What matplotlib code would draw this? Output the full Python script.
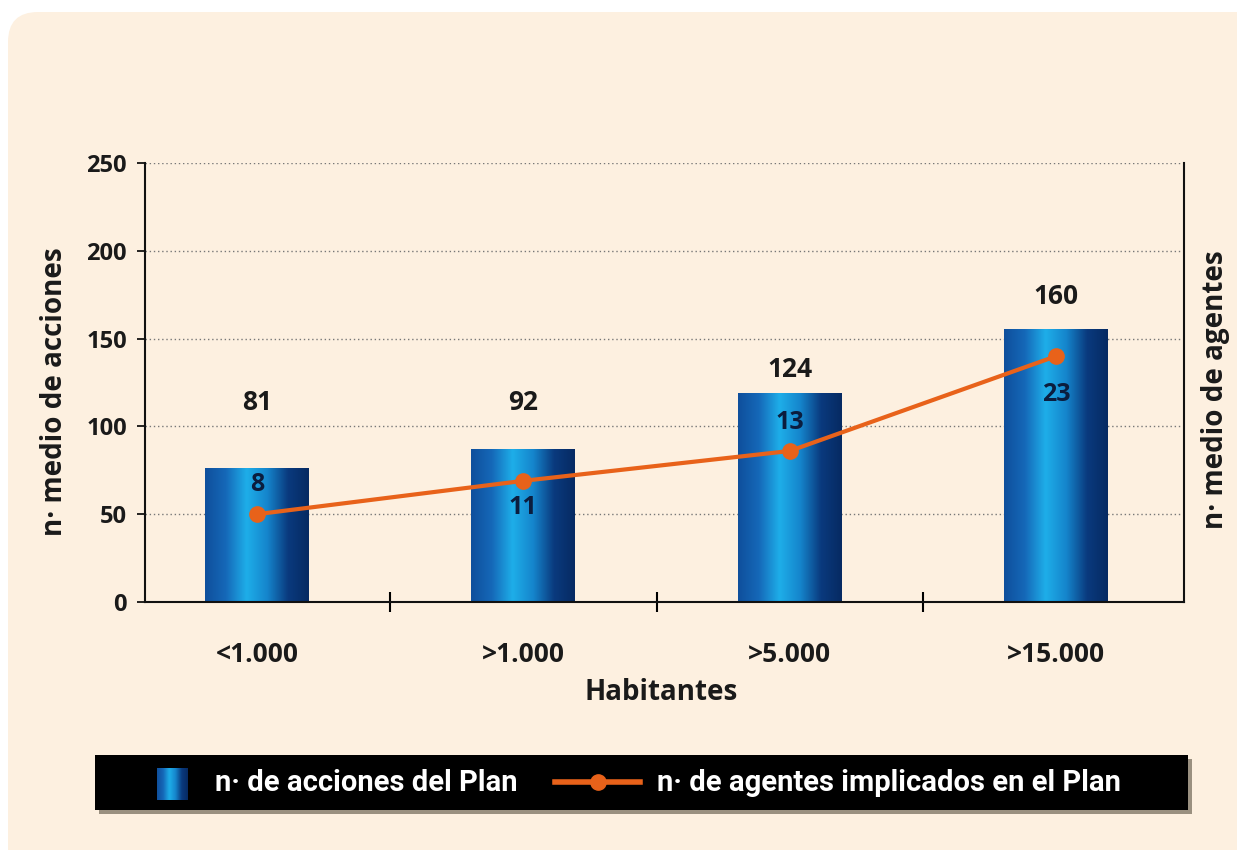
import numpy as np
import matplotlib
matplotlib.use('Agg')
import matplotlib.pyplot as plt
from matplotlib.colors import LinearSegmentedColormap
from matplotlib.patches import FancyBboxPatch, Rectangle
from matplotlib.lines import Line2D

# data
categories = ['<1.000', '>1.000', '>5.000', '>15.000']
acciones_height = [76, 87, 119, 155]      # bar heights as drawn
acciones_labels = ['81', '92', '124', '160']
agentes_y = [50, 69, 86, 140]             # line points on the left scale
agentes_labels = ['8', '11', '13', '23']

# label offsets (pixels) so the numbers sit where the original has them
bar_lab_off = [66, 47, 24, 33]
line_lab_off = [30, -27, 28, -38]

cream = '#fdf0e0'
orange = '#e8621a'
dark = '#1a1a1a'
navy = '#0b1d3e'
font = 'Open Sans'

bar_cmap = LinearSegmentedColormap.from_list(
    'barblue', ['#0f4f9c', '#1568b8', '#1eaee9', '#1585cc', '#0a3a7e', '#062a62'])

fig = plt.figure(figsize=(12.37, 8.5), dpi=100)
fig.patch.set_facecolor('white')

# cream rounded panel
bg = FancyBboxPatch((8, -40), 1290, 878, boxstyle='round,pad=0,rounding_size=30',
                    transform=None, facecolor=cream, edgecolor='none', zorder=-5)
fig.add_artist(bg)

ax = fig.add_axes([145 / 1237, 1 - 602 / 850, (1184 - 145) / 1237, (602 - 163) / 850])
ax.set_facecolor('none')

x = np.arange(len(categories))
bars = ax.bar(x, acciones_height, width=0.39, color='none', edgecolor='none')
grad = np.linspace(0, 1, 256).reshape(1, -1)
for b in bars:
    x0, w, h = b.get_x(), b.get_width(), b.get_height()
    ax.imshow(grad, cmap=bar_cmap, extent=[x0, x0 + w, 0, h], aspect='auto',
              interpolation='bicubic', zorder=2)

ax.plot(x, agentes_y, color=orange, lw=3, marker='o', ms=11,
        markerfacecolor=orange, markeredgecolor=orange, zorder=4)

for xi, h, lab, off in zip(x, acciones_height, acciones_labels, bar_lab_off):
    ax.annotate(lab, (xi, h), xytext=(0, off * 0.72), textcoords='offset points',
                ha='center', va='center', fontsize=19, fontweight='bold',
                color=dark, family=font, zorder=5)

for xi, yv, lab, off in zip(x, agentes_y, agentes_labels, line_lab_off):
    ax.annotate(lab, (xi, yv), xytext=(0, off * 0.72), textcoords='offset points',
                ha='center', va='center', fontsize=18, fontweight='bold',
                color=navy, family=font, zorder=5)

ax.set_xlim(-0.42, 3.48)
ax.set_ylim(0, 250)
ax.set_yticks([0, 50, 100, 150, 200, 250])
ax.set_yticklabels(['0', '50', '100', '150', '200', '250'],
                   fontsize=17, fontweight='bold', family=font, color=dark)
ax.yaxis.grid(True, linestyle=(0, (1, 2)), color='#777777', linewidth=1)
ax.set_axisbelow(True)

ax.set_xticks([0.5, 1.5, 2.5])
ax.set_xticklabels([])
ax.set_xticks(x, minor=True)
ax.set_xticklabels(categories, minor=True, fontsize=19, fontweight='bold',
                   family=font, color=dark)
ax.tick_params(axis='x', which='major', direction='inout', length=14, width=1.5)
ax.tick_params(axis='x', which='minor', length=0, pad=28)
ax.tick_params(axis='y', direction='out', length=6, width=1.2, pad=7)

ax.spines['top'].set_visible(False)
for s in ['left', 'right', 'bottom']:
    ax.spines[s].set_linewidth(1.5)
    ax.spines[s].set_color('#111111')

fig.text(55 / 1237, 1 - 392 / 850, 'n· medio de acciones', rotation=90,
         ha='center', va='center', fontsize=20, fontweight='bold', family=font, color=dark)
fig.text(1215 / 1237, 1 - 390 / 850, 'n· medio de agentes', rotation=90,
         ha='center', va='center', fontsize=20, fontweight='bold', family=font, color=dark)
fig.text(661 / 1237, 1 - 693 / 850, 'Habitantes', ha='center', va='center',
         fontsize=20, fontweight='bold', family=font, color=dark)

# legend bar
fig.add_artist(Rectangle((99, 36), 1093, 55, transform=None,
                         facecolor='#9a9080', edgecolor='none', zorder=1))
fig.add_artist(Rectangle((95, 40), 1093, 55, transform=None,
                         facecolor='black', edgecolor='none', zorder=2))
lax = fig.add_axes([157 / 1237, 50 / 850, 31 / 1237, 32 / 850], zorder=3)
lax.imshow(grad, cmap=bar_cmap, aspect='auto', interpolation='bicubic')
lax.axis('off')
fig.add_artist(Line2D([555 / 1237, 640 / 1237], [1 - 782 / 850] * 2, color=orange,
                      lw=4, zorder=3))
fig.add_artist(Line2D([597.5 / 1237], [1 - 782 / 850], color=orange, marker='o',
                      ms=11, zorder=4))
leg_font = ['Roboto', 'DejaVu Sans']
fig.text(215 / 1237, 1 - 783 / 850, 'n· de acciones del Plan', ha='left', va='center',
         fontsize=21, fontweight='bold', family=leg_font, color='white', zorder=4)
fig.text(657 / 1237, 1 - 783 / 850, 'n· de agentes implicados en el Plan', ha='left',
         va='center', fontsize=21, fontweight='bold', family=leg_font, color='white', zorder=4)

fig.savefig('out.png', dpi=100, facecolor=fig.get_facecolor())
